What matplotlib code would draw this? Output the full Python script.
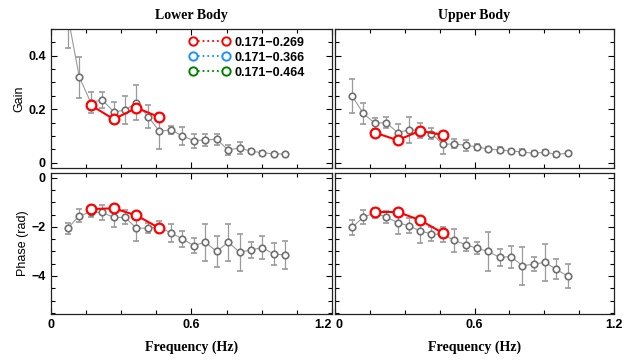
import matplotlib
matplotlib.use("Agg")
import matplotlib.pyplot as plt
from matplotlib.lines import Line2D
from matplotlib.ticker import MultipleLocator, FixedLocator

# frequencies of the individual bins (Hz)
freq = [0.073, 0.122, 0.171, 0.220, 0.269, 0.317, 0.366, 0.415, 0.464, 0.513,
        0.562, 0.610, 0.659, 0.708, 0.757, 0.806, 0.854, 0.903, 0.952, 1.001]
band_freq = [0.171, 0.269, 0.366, 0.464]

# lower body
lo_gain = [0.55, 0.32, 0.225, 0.235, 0.19, 0.196, 0.225, 0.1725, 0.1175, 0.1225,
           0.10, 0.0825, 0.085, 0.0875, 0.0475, 0.055, 0.0425, 0.0375, 0.0325, 0.0325]
lo_gain_err = [0.12, 0.077, 0.04, 0.03, 0.038, 0.053, 0.065, 0.044, 0.068, 0.016,
               0.033, 0.026, 0.022, 0.021, 0.019, 0.023, 0.008, 0.006, 0.005, 0.004]
lo_phase = [-2.05, -1.54, -1.40, -1.41, -1.61, -1.61, -2.05, -2.05, -2.00, -2.25,
            -2.48, -2.76, -2.62, -3.00, -2.62, -3.03, -2.94, -2.84, -3.11, -3.14]
lo_phase_err = [0.23, 0.27, 0.2, 0.29, 0.39, 0.29, 0.51, 0.2, 0.25, 0.38,
                0.33, 0.32, 0.75, 0.63, 0.76, 0.75, 0.34, 0.46, 0.44, 0.58]
lo_band_gain = [0.215, 0.1625, 0.205, 0.17]
lo_band_phase = [-1.27, -1.24, -1.53, -2.05]

# upper body
up_gain = [0.25, 0.184, 0.1475, 0.15, 0.1125, 0.1225, 0.121, 0.109, 0.069, 0.07,
           0.065, 0.059, 0.051, 0.0475, 0.044, 0.04, 0.035, 0.039, 0.031, 0.035]
up_gain_err = [0.064, 0.039, 0.02, 0.022, 0.031, 0.05, 0.028, 0.019, 0.036, 0.017,
               0.02, 0.012, 0.008, 0.012, 0.008, 0.012, 0.007, 0.007, 0.008, 0.006]
up_phase = [-2.02, -1.60, -1.43, -1.60, -1.82, -1.95, -2.16, -2.29, -2.30, -2.55,
            -2.72, -2.87, -3.00, -3.24, -3.21, -3.58, -3.52, -3.44, -3.73, -4.01]
up_phase_err = [0.29, 0.29, 0.2, 0.24, 0.48, 0.3, 0.5, 0.27, 0.3, 0.47,
                0.27, 0.24, 0.78, 0.36, 0.45, 0.77, 0.29, 0.75, 0.41, 0.5]
up_band_gain = [0.1125, 0.084, 0.119, 0.104]
up_band_phase = [-1.39, -1.39, -1.72, -2.25]

band_labels = ["0.171\u22120.269", "0.171\u22120.366", "0.171\u22120.464"]
band_colors = ["#ff0000", "#1e90ff", "#008000"]

sans = "Liberation Sans"
serif = "Liberation Serif"

fig = plt.figure(figsize=(6.24, 3.6), dpi=100)
W, H = 624, 360


def place(x0, y0, x1, y1):
    return fig.add_axes([x0 / W, 1 - y1 / H, (x1 - x0) / W, (y1 - y0) / H])


ax_lg = place(50.7, 29, 332, 168)
ax_ug = place(335, 29, 614, 168)
ax_lp = place(50.7, 173, 332, 314)
ax_up = place(335, 173, 614, 314)

panels = [
    (ax_lg, lo_gain, lo_gain_err, lo_band_gain),
    (ax_ug, up_gain, up_gain_err, up_band_gain),
    (ax_lp, lo_phase, lo_phase_err, lo_band_phase),
    (ax_up, up_phase, up_phase_err, up_band_phase),
]

for ax, vals, errs, band in panels:
    ax.errorbar(freq, vals, yerr=errs, color="#9a9a9a", lw=0.8, elinewidth=0.9,
                capsize=2, capthick=0.9, marker="o", ms=4.7, mfc="white",
                mec="#707070", mew=1.2, zorder=2)
    ax.plot(band_freq, band, color="#ff0000", lw=1.5, marker="o", ms=7,
            mfc="white", mec="#ff0000", mew=1.6, zorder=3)
    ax.set_xlim(0, 1.2)
    ax.xaxis.set_major_locator(MultipleLocator(0.6))
    ax.xaxis.set_minor_locator(MultipleLocator(0.15))
    ax.tick_params(which="both", direction="in", top=True, right=True,
                   width=0.8, labelsize=9)
    ax.tick_params(which="major", length=4)
    ax.tick_params(which="minor", length=3)
    for s in ax.spines.values():
        s.set_linewidth(0.9)
        s.set_color("#222222")

for ax in (ax_lg, ax_ug):
    ax.set_ylim(-0.02, 0.5)
    ax.yaxis.set_major_locator(FixedLocator([0, 0.2, 0.4]))
    ax.yaxis.set_minor_locator(MultipleLocator(0.05))
    ax.set_xticklabels([])

for ax in (ax_lp, ax_up):
    ax.set_ylim(-5.55, 0.2)
    ax.yaxis.set_major_locator(MultipleLocator(2))
    ax.yaxis.set_minor_locator(MultipleLocator(0.5))
    ax.set_xticks([0, 0.6, 1.2])
    ax.set_xticklabels(["0", "0.6", "1.2"])
    ax.set_xlabel("Frequency (Hz)", family=serif, fontweight="bold",
                  fontsize=10, labelpad=7)

ax_lg.set_yticklabels(["0", "0.2", "0.4"])
ax_ug.set_yticklabels([])
ax_up.set_yticklabels([])

for ax in fig.axes:
    for lab in ax.get_xticklabels() + ax.get_yticklabels():
        lab.set_family(sans)
        lab.set_fontweight("bold")

# the two panels meet at 1.2 / 0, keep those labels apart
ax_lp.get_xticklabels()[-1].set_horizontalalignment("right")
ax_up.get_xticklabels()[0].set_horizontalalignment("left")

ax_lg.set_ylabel("Gain", family=sans, fontsize=9, labelpad=2)
ax_lp.set_ylabel("Phase (rad)", family=sans, fontsize=9, labelpad=2)

ax_lg.set_title("Lower Body", family=serif, fontweight="bold", fontsize=10, pad=7)
ax_ug.set_title("Upper Body", family=serif, fontweight="bold", fontsize=10, pad=7)

handles = [Line2D([0], [0], color=c, ls=":", lw=1.3, marker="o", ms=6,
                  mfc="white", mec=c, mew=1.4) for c in band_colors]
leg = ax_lg.legend(handles, band_labels, loc="upper right", frameon=False,
                   numpoints=2, handlelength=3.2, handletextpad=0.4,
                   labelspacing=0.25, borderaxespad=0.2,
                   bbox_to_anchor=(0.93, 1.0),
                   prop={"family": sans, "weight": "bold", "size": 9})

fig.savefig("out.png", dpi=100)
